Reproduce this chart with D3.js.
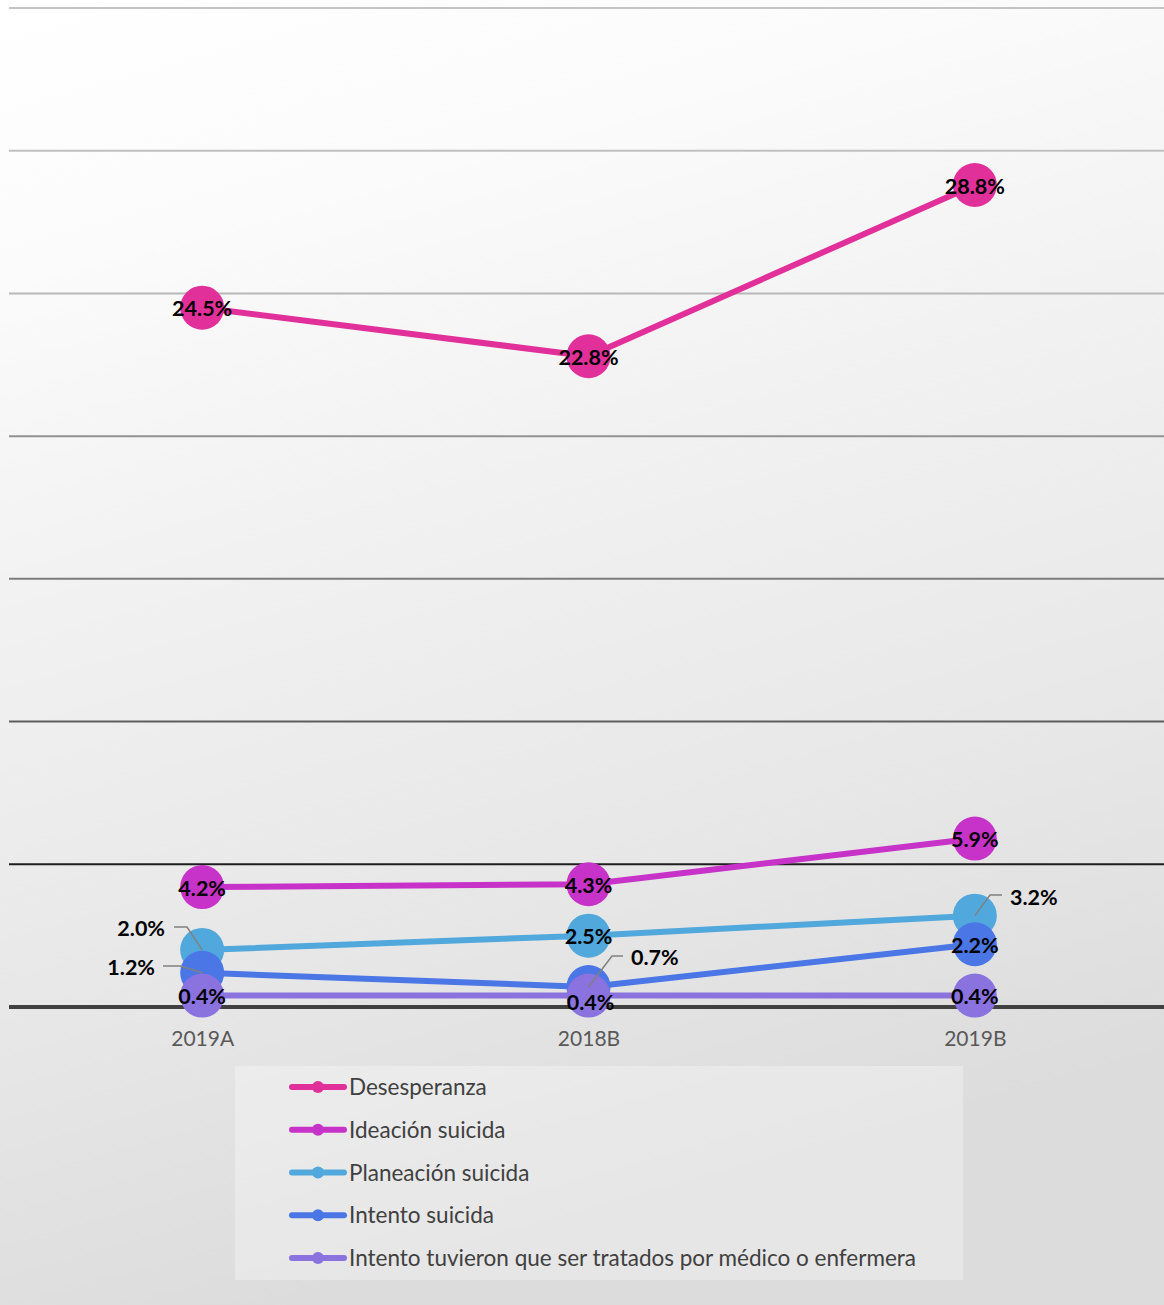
<!DOCTYPE html>
<html>
<head>
<meta charset="utf-8">
<script src="https://cdn.jsdelivr.net/npm/d3@7"></script>
<style>
html,body{margin:0;padding:0;background:#fff;}
svg{display:block;}
text{font-family:Lato,"Open Sans",sans-serif;}
</style>
</head>
<body>
<svg id="chart" width="1164" height="1305"></svg>
<script>
// ---- data ----
const categories = ["2019A", "2018B", "2019B"];
const seriesNames = [
  "Desesperanza",
  "Ideación suicida",
  "Planeación suicida",
  "Intento suicida",
  "Intento tuvieron que ser tratados por médico o enfermera"
];
const desesperanza = [24.5, 22.8, 28.8];
const ideacion = [4.2, 4.3, 5.9];
const planeacion = [2.0, 2.5, 3.2];
const intento = [1.2, 0.7, 2.2];
const intentoTratados = [0.4, 0.4, 0.4];
const yTicks = [0, 5, 10, 15, 20, 25, 30, 35];

// ---- styles ----
const colors = ["#e2309a", "#c732c8", "#50a8dc", "#4a76e6", "#8a72df"];
const allValues = [desesperanza, ideacion, planeacion, intento, intentoTratados];
// label placement per series/point: null = centered on marker; otherwise leader-line label
const labelPlacement = [
  [null, null, null],
  [null, null, null],
  [{side: "left", tx: 165, ty: 928, lx: 174, ly: 927, bx: 187}, null, {side: "right", tx: 1010, ty: 897, lx: 1002, ly: 895, bx: 990}],
  [{side: "left", tx: 155, ty: 967, lx: 163, ly: 966, bx: 180}, {side: "right", tx: 631, ty: 957, lx: 623, ly: 956, bx: 612}, null],
  [null, {dy: 6, dx: 2}, null]
];
// gridline colours from bottom (0) to top (35)
const gridColors = ["#404040", "#1e1e1e", "#5e5e5e", "#7c7c7c", "#929292", "#b8b8b8", "#c0c0c0", "#c4c4c4"];

const svg = d3.select("#chart");
const W = 1164, H = 1305;

// background gradient
const defs = svg.append("defs");
const grad = defs.append("linearGradient").attr("id", "bg")
  .attr("x1", "0").attr("y1", "0").attr("x2", "0.25").attr("y2", "1");
grad.append("stop").attr("offset", "0").attr("stop-color", "#ffffff");
grad.append("stop").attr("offset", "0.2").attr("stop-color", "#fbfbfb");
grad.append("stop").attr("offset", "0.45").attr("stop-color", "#f1f1f1");
grad.append("stop").attr("offset", "0.75").attr("stop-color", "#e7e7e7");
grad.append("stop").attr("offset", "1").attr("stop-color", "#dcdcdc");
svg.append("rect").attr("width", W).attr("height", H).attr("fill", "url(#bg)");

const x = d3.scalePoint().domain(categories).range([9, 1168]).padding(0.5);
const y = d3.scaleLinear().domain([0, 35]).range([1007, 8]);

// gridlines
svg.append("g").selectAll("line").data(yTicks).join("line")
  .attr("x1", 9).attr("x2", W)
  .attr("y1", d => y(d)).attr("y2", d => y(d))
  .attr("stroke", (d, i) => gridColors[i])
  .attr("stroke-width", d => d === 0 ? 4 : 2);

// x axis labels
const xAxis = d3.axisBottom(x).tickSize(0).tickPadding(0);
const gx = svg.append("g").attr("transform", `translate(0,${y(0) + 27})`).call(xAxis);
gx.select(".domain").remove();
gx.selectAll("text").attr("fill", "#595959").attr("font-size", 21)
  .attr("font-family", "Lato, sans-serif").attr("dy", "0.55em");

// lines
const line = d3.line().x((d, i) => x(categories[i])).y(d => y(d));
allValues.forEach((vals, s) => {
  svg.append("path").datum(vals).attr("d", line)
    .attr("fill", "none").attr("stroke", colors[s]).attr("stroke-width", 6)
    .attr("stroke-linejoin", "round");
});
// markers
allValues.forEach((vals, s) => {
  svg.append("g").selectAll("circle").data(vals).join("circle")
    .attr("cx", (d, i) => x(categories[i])).attr("cy", d => y(d))
    .attr("r", 22).attr("fill", colors[s]);
});

// labels
const fmt = d => d.toFixed(1) + "%";
allValues.forEach((vals, s) => {
  vals.forEach((v, i) => {
    const px = x(categories[i]), py = y(v);
    const p = labelPlacement[s][i];
    if (p && p.side) {
      svg.append("polyline")
        .attr("points", `${p.lx},${p.ly} ${p.bx},${p.ly} ${px},${py}`)
        .attr("fill", "none").attr("stroke", "#808080").attr("stroke-width", 1.5);
      svg.append("text").text(fmt(v))
        .attr("x", p.tx).attr("y", p.ty).attr("dy", "0.36em")
        .attr("text-anchor", p.side === "left" ? "end" : "start")
        .attr("font-weight", 700).attr("font-size", 21.5).attr("fill", "#000");
    } else {
      const dx = p ? p.dx : 0, dy = p ? p.dy : 0;
      svg.append("text").text(fmt(v))
        .attr("x", px + dx).attr("y", py + dy + 1).attr("dy", "0.36em")
        .attr("text-anchor", "middle")
        .attr("font-weight", 700).attr("font-size", 21.5).attr("fill", "#000");
    }
  });
});

// legend
const lg = svg.append("g");
lg.append("rect").attr("x", 235).attr("y", 1066).attr("width", 728).attr("height", 214)
  .attr("fill", "#ffffff").attr("fill-opacity", 0.3);
const legY = d3.scalePoint().domain(seriesNames).range([1087, 1258]);
seriesNames.forEach((name, s) => {
  const ly = legY(name);
  lg.append("line").attr("x1", 292).attr("x2", 344).attr("y1", ly).attr("y2", ly)
    .attr("stroke", colors[s]).attr("stroke-width", 6).attr("stroke-linecap", "round");
  lg.append("circle").attr("cx", 318).attr("cy", ly).attr("r", 6).attr("fill", colors[s]);
  lg.append("text").text(name).attr("x", 349).attr("y", ly).attr("dy", "0.36em")
    .attr("font-size", 22.5).attr("fill", "#404040");
});
</script>
</body>
</html>
